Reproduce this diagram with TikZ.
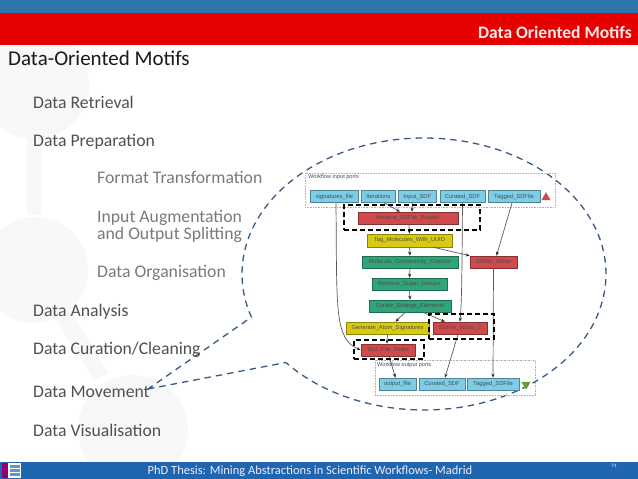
\documentclass[tikz,border=0pt]{standalone}
\usepackage{fontspec}
\setmainfont{Carlito}
\newfontfamily\wffont{Liberation Sans}
\usetikzlibrary{calc,arrows.meta,shapes.geometric}
\definecolor{topblue}{HTML}{2E75AC}
\definecolor{barred}{HTML}{E60000}
\definecolor{footblue}{HTML}{1F66B0}
\definecolor{blobgray}{HTML}{F8F8F8}
\definecolor{bubbleblue}{HTML}{3A5A85}
\definecolor{portblue}{HTML}{7BCDE8}
\definecolor{procred}{HTML}{D04A4C}
\definecolor{procyellow}{HTML}{D6CB12}
\definecolor{procgreen}{HTML}{2FA67A}
\definecolor{okgreen}{HTML}{5FA030}
\definecolor{textdark}{HTML}{505050}
\definecolor{textlight}{HTML}{7A7A7A}
\tikzset{
  wfbox/.style={draw=#1!65!black,fill=#1,line width=0.6pt,inner sep=0pt,font=\wffont\fontsize{5.8}{6}\selectfont,text=black!70},
  port/.style={wfbox=portblue},
  redproc/.style={wfbox=procred},
  yellowproc/.style={wfbox=procyellow},
  greenproc/.style={wfbox=procgreen},
  frameport/.style={draw=black!30,densely dotted,line width=0.6pt,inner sep=0pt},
  hilite/.style={draw=black,dashed,line width=1.4pt,dash pattern=on 5pt off 3pt,inner sep=0pt},
  flow/.style={draw=black!65,line width=0.7pt,-{Stealth[length=4pt,width=3.2pt,color=black!85]}},
  main/.style={anchor=base west,inner sep=0pt,text=textdark,font=\fontsize{17.7}{20}\selectfont},
  sub/.style={anchor=base west,inner sep=0pt,text=textlight,font=\fontsize{17.7}{20}\selectfont},
}
\begin{document}
\begin{tikzpicture}[x=1pt,y=1pt]
  \useasboundingbox (0,0) rectangle (638,479);
  \fill[white] (0,0) rectangle (638,479);
  % faint molecule behind the list
  \fill[blobgray] (35,394) circle (54);
  \fill[blobgray] (27,264) rectangle (42,350);
  \fill[blobgray] (35,209) circle (53);
  \fill[blobgray] (50,170) -- (64,178) -- (108,106) -- (94,98) -- cycle;
  \fill[blobgray] (133,49) circle (55);
  % bars
  \fill[topblue] (0,466) rectangle (638,479);
  \fill[barred] (0,434) rectangle (638,466);
  \fill[footblue] (0,0) rectangle (638,17);
  \fill[white] (2,1) rectangle (21,16);
  \fill[red!55!blue] (2,1) rectangle (8,16);
  \fill[footblue!70] (10,11) rectangle (20,14);
  \fill[footblue!70] (10,7) rectangle (20,9.5);
  \fill[footblue!70] (10,3) rectangle (20,5.5);

  \node[anchor=base east,inner sep=0pt,text=white!92!red,font=\fontsize{17.5}{18}\selectfont\bfseries] (bartitle) at (632,440) {Data Oriented Motifs};
  \node[anchor=base west,text=black!90,font=\fontsize{21}{24}\selectfont,inner sep=0pt] (title) at (8,413.5) {Data-Oriented Motifs};
  \node[anchor=base,inner sep=0pt,text=white!92!blue,font=\fontsize{12.5}{15}\selectfont] (thesis) at (310,4) {PhD Thesis: Mining Abstractions in Scientific Workflows- Madrid};
  \node[text=white,font=\fontsize{5}{6}\selectfont] (pageno) at (614,13) {71};

  % motif list
  \node[main] (retrieval) at (33,370.5) {Data Retrieval};
  \node[main] (preparation) at (33,332.5) {Data Preparation};
  \node[sub] (format) at (97,295.5) {Format Transformation};
  \node[sub] (augment) at (97,256.5) {Input Augmentation};
  \node[sub] (split) at (97,239.5) {and Output Splitting};
  \node[sub] (organise) at (97,201.5) {Data Organisation};
  \node[main] (analysis) at (33,162.5) {Data Analysis};
  \node[main] (curation) at (33,124.5) {Data Curation/Cleaning};
  \node[main] (movement) at (33,81.5) {Data Movement};
  \node[main] (visual) at (33,42.5) {Data Visualisation};

  % bubble
  \coordinate (bubblecentre) at (424,205);
  \coordinate (bubbletip) at (148,90);
  \coordinate (bubblestart) at ($(bubblecentre)+(220.6:182 and 136)$);
  \draw[bubbleblue,line width=1.3pt,dash pattern=on 6.5pt off 5pt]
    (bubbletip) -- (bubblestart)
    arc[start angle=220.6,end angle=558.5,x radius=182,y radius=136] -- (bubbletip);

  % workflow frames
  \node[frameport,minimum width=250pt,minimum height=34pt] (inframe) at (430,289) {};
  \node[frameport,minimum width=160pt,minimum height=35pt] (outframe) at (455,101.5) {};
  \node[anchor=west,inner sep=0pt,text=black!70,font=\wffont\fontsize{5.6}{6}\selectfont] (inlabel) at (308,301.5) {Workflow input ports};
  \node[anchor=west,inner sep=0pt,text=black!70,font=\wffont\fontsize{5.6}{6}\selectfont] (outlabel) at (377,114) {Workflow output ports};

  % input ports
  \node[port,minimum width=47.6pt,minimum height=12pt] (sigfile) at (334.5,282.3) {signatures\_file};
  \node[port,minimum width=33.3pt,minimum height=12pt] (iter) at (378.3,282.3) {Iterations};
  \node[port,minimum width=38.7pt,minimum height=12pt] (inputsdf) at (417.3,282.3) {Input\_SDF};
  \node[port,minimum width=45pt,minimum height=12pt] (curatedin) at (462.5,282.3) {Curated\_SDF};
  \node[port,minimum width=52pt,minimum height=12pt] (taggedin) at (514,282.3) {Tagged\_SDFile};
  \node[regular polygon,regular polygon sides=3,fill=procred,minimum size=10.5pt,inner sep=0pt] (warntri) at (546,281.5) {};

  % processors
  \node[redproc,minimum width=100pt,minimum height=12pt] (reader) at (408,261) {Iterative\_SDFile\_Reader};
  \node[yellowproc,minimum width=85pt,minimum height=13pt] (tagmol) at (409.5,238.5) {Tag\_Molecules\_With\_UUID};
  \node[greenproc,minimum width=96pt,minimum height=12pt] (conncheck) at (410,217) {Molecule\_Connectivity\_Checker};
  \node[redproc,minimum width=47pt,minimum height=12pt] (sdwriter) at (493.5,217) {SDFile\_Writer};
  \node[greenproc,minimum width=75pt,minimum height=12pt] (sugar) at (409.5,195) {Remove\_Sugar\_Groups};
  \node[greenproc,minimum width=82pt,minimum height=12pt] (strange) at (410,173) {Curate\_Strange\_Elements};
  \node[yellowproc,minimum width=83pt,minimum height=12pt] (atomsig) at (387.5,151) {Generate\_Atom\_Signatures};
  \node[redproc,minimum width=54pt,minimum height=12pt] (sdwritertwo) at (460,151) {SDFile\_Writer\_2};
  \node[redproc,minimum width=54pt,minimum height=12pt] (textwriter) at (388,129) {Text\_File\_Writer};

  % output ports
  \node[port,minimum width=37pt,minimum height=12pt] (outfile) at (397.5,95) {output\_file};
  \node[port,minimum width=46pt,minimum height=12pt] (curatedout) at (442,95) {Curated\_SDF};
  \node[port,minimum width=52pt,minimum height=12pt] (taggedout) at (493,95) {Tagged\_SDFile};
  \node[regular polygon,regular polygon sides=3,shape border rotate=180,fill=okgreen,minimum size=10.5pt,inner sep=0pt] (oktri) at (526,94.5) {};

  % connectors
  \draw[flow] ([xshift=1.5pt]sigfile.south) .. controls (337,170) and (334,140) .. (textwriter.west);
  \draw[flow] ([xshift=6pt]iter.south) -- ([xshift=-8pt]reader.north);
  \draw[flow] ([xshift=-5pt]inputsdf.south) -- ([xshift=4pt]reader.north);
  \draw[flow] ([xshift=1pt]reader.south) -- (tagmol.north);
  \draw[flow] (tagmol.south) -- (conncheck.north);
  \draw[flow] ([xshift=24pt]tagmol.south) -- (sdwriter.north west);
  \draw[flow] ([xshift=-2pt]taggedin.south) -- ([xshift=3pt]sdwriter.north);
  \draw[flow] (curatedin.south) .. controls (462,220) and (462,180) .. ([xshift=0pt]sdwritertwo.north);
  \draw[flow] (conncheck.south) -- (sugar.north);
  \draw[flow] (sugar.south) -- (strange.north);
  \draw[flow] ([xshift=-5pt]strange.south) -- ([xshift=8pt]atomsig.north);
  \draw[flow] ([xshift=13pt]strange.south) -- ([xshift=-15pt]sdwritertwo.north);
  \draw[flow] (atomsig.south) -- ([xshift=-1pt]textwriter.north);
  \draw[flow] ([xshift=1pt]textwriter.south) -- ([xshift=-2pt]outfile.north);
  \draw[flow] ([xshift=-2pt]sdwritertwo.south) -- ([xshift=3pt]curatedout.north);
  \draw[flow] (sdwriter.south) -- (taggedout.north);

  % highlighted motifs
  \node[hilite,minimum width=136pt,minimum height=25pt] (hiliteread) at (412,261.5) {};
  \node[hilite,minimum width=65pt,minimum height=25pt] (hilitewrite) at (461.5,152.5) {};
  \node[hilite,minimum width=70pt,minimum height=19pt] (hilitetext) at (389,129.5) {};
\end{tikzpicture}
\end{document}
